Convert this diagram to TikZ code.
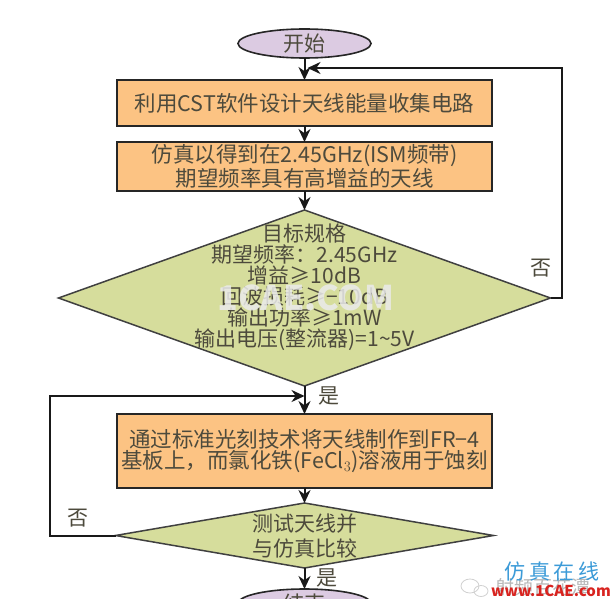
\documentclass[tikz,border=0pt]{standalone}
\usepackage{fontspec}
\setmainfont{Noto Sans CJK SC}
\usetikzlibrary{shapes.geometric,arrows.meta,positioning}
\definecolor{boxorange}{HTML}{FCC383}
\definecolor{termpurple}{HTML}{DCCBE2}
\definecolor{decgreen}{HTML}{D6DD9C}
\definecolor{inkgray}{HTML}{4D4A3C}
\definecolor{markblue}{HTML}{3C9BD8}
\definecolor{markred}{HTML}{D8231F}

\begin{document}
\begin{tikzpicture}[x=1pt,y=1pt,
  term/.style={ellipse,draw=black!85,fill=termpurple,line width=1.6pt,minimum width=133pt,minimum height=29pt,inner sep=0pt,outer sep=0pt,text=inkgray,font=\fontsize{21}{22}\selectfont},
  act/.style={rectangle,draw=black!85,fill=boxorange,line width=2.4pt,minimum width=375pt,inner sep=0pt,outer sep=0pt,align=center,text=inkgray,font=\fontsize{21.5}{21}\selectfont},
  dec/.style={diamond,draw=black!75,fill=decgreen,line width=1.5pt,inner sep=0pt,outer sep=0pt},
  dectext/.style={align=center,text=inkgray,font=\fontsize{21}{21}\selectfont},
  arr/.style={-{Stealth[length=13pt,width=12pt]},line width=2pt,draw=black!90},
  lbl/.style={text=inkgray,font=\fontsize{21}{22}\selectfont}
]
\path[use as bounding box,clip] (0,0) rectangle (613,-599);
\fill[white] (0,0) rectangle (613,-599);
\node[term] (start) at (304.5,-43.5) {开始};
\node[act,minimum height=46pt,below=22pt of start] (design) {利用CST软件设计天线能量收集电路};
\node[act,minimum height=49pt,below=16pt of design] (simu) {仿真以得到在2.45GHz(ISM频带)\\期望频率具有高增益的天线};
\node[dec,minimum width=492pt,minimum height=176pt,below=19pt of simu] (spec) {};
\node[dectext,yshift=11pt] (spectxt) at (spec.center) {目标规格\\期望频率：2.45GHz\\增益≥10dB\\回波损耗≥−10dB\\输出功率≥1mW\\输出电压(整流器)=1\textasciitilde5V};
\node[act,minimum height=74pt,below=28pt of spec] (fab) {通过标准光刻技术将天线制作到FR−4\\基板上，而氯化铁(FeCl$_3$)溶液用于蚀刻};
\node[dec,minimum width=378pt,minimum height=65pt,below=15pt of fab] (test) {};
\node[dectext,font=\fontsize{21}{25}\selectfont] (testtxt) at (test.center) {测试天线并\\与仿真比较};
\node[term,below=21pt of test] (finish) {结束};
\coordinate[below=10pt of start,xshift=3pt] (joinA);
\coordinate[below=10pt of spec] (joinB);
% connectors
\draw[arr] (start)--(design); \draw[arr] (design)--(simu); \draw[arr] (simu)--(spec);
\draw[arr] (spec)--(fab); \draw[arr] (fab)--(test); \draw[arr] (test)--(finish);
\draw[arr] (spec.east)--++(11,0)|-(joinA);
\draw[arr] (test.west)--++(-66,0)|-(joinB);
\node[lbl] (noA) at (541,-268) {否};
\node[lbl] (yesA) at (329,-396) {是};
\node[lbl] (noB) at (78,-518) {否};
\node[lbl] (yesB) at (327,-578) {是};
% watermarks
\node[font=\bfseries\fontsize{34}{36}\selectfont,text=white!92!black,opacity=.85] (markcenter) at (306,-298) {1CAE.COM};
\draw[black!18,line width=.8pt] (470,-586) ellipse (9pt and 7pt) (481,-591) ellipse (7pt and 5.5pt);
\node[font=\fontsize{19}{20}\selectfont,text=black!28] (markgray) at (543,-587) {射频百花潭};
\node[font=\fontsize{21}{22}\selectfont,text=markblue] (markcn) at (552,-572) {仿\,真\,在\,线};
\node[font=\bfseries\fontsize{15}{16}\selectfont,text=markred] (markurl) at (551,-591) {www.1CAE.com};
\end{tikzpicture}
\end{document}
